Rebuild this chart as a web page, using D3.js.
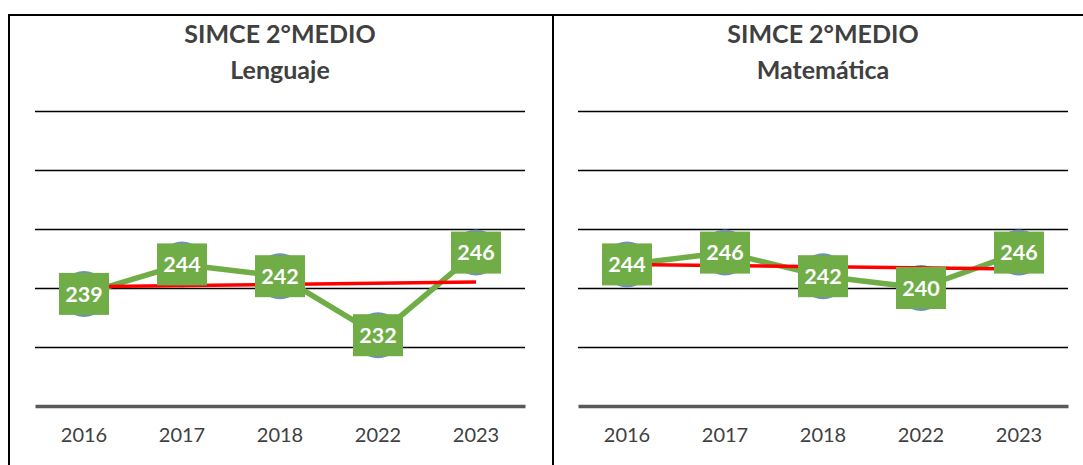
<!DOCTYPE html>
<html>
<head>
<meta charset="utf-8">
<script src="https://cdn.jsdelivr.net/npm/d3@7"></script>
<style>
  body { margin: 0; background: #fff; }
  text { font-family: Lato, "Open Sans", sans-serif; }
</style>
</head>
<body>
<div id="chart"></div>
<script>
// chart data
var years = ["2016", "2017", "2018", "2022", "2023"];
var lenguaje = [239, 244, 242, 232, 246];
var matematica = [244, 246, 242, 240, 246];
var titles = [["SIMCE 2°MEDIO", "Lenguaje"], ["SIMCE 2°MEDIO", "Matemática"]];
var yTicks = [220, 230, 240, 250, 260, 270];

var W = 1083, H = 465;
var svg = d3.select("#chart").append("svg")
    .attr("width", W)
    .attr("height", H);

// linear trendline (least squares) like excel
function trend(vals) {
    var n = vals.length, mx = (n - 1) / 2, my = d3.mean(vals);
    var num = 0, den = 0;
    vals.forEach(function(v, i) { num += (i - mx) * (v - my); den += (i - mx) * (i - mx); });
    var slope = num / den;
    return [my - slope * mx, my + slope * (n - 1 - mx)];
}

function drawPanel(values, title, px, plotLeft, plotRight, panelRight) {
    var g = svg.append("g");

    // panel frame
    g.append("path")
        .attr("d", "M" + px + "," + H + " V15 H" + panelRight + (panelRight < W ? " V" + H : ""))
        .attr("fill", "none")
        .attr("stroke", "#000")
        .attr("stroke-width", 2);

    var cx = (plotLeft + plotRight) / 2;
    g.selectAll(".title")
        .data(title)
        .enter().append("text")
        .attr("x", cx)
        .attr("y", function(d, i) { return 43 + i * 36; })
        .attr("text-anchor", "middle")
        .attr("font-weight", "bold")
        .attr("font-size", 25)
        .attr("fill", "#404040")
        .text(function(d) { return d; });

    var x = d3.scaleBand().domain(years).range([plotLeft, plotRight]).padding(0);
    var y = d3.scaleLinear().domain([220, 270]).range([406, 111]);
    var xc = function(d) { return x(d) + x.bandwidth() / 2; };

    // gridlines
    var grid = g.append("g")
        .attr("transform", "translate(" + plotLeft + ",0)")
        .call(d3.axisLeft(y).tickValues(yTicks.slice(1)).tickSize(-(plotRight - plotLeft)).tickFormat(""));
    grid.select(".domain").remove();
    grid.selectAll("line").attr("stroke", "#000").attr("stroke-width", 1.5);

    // bottom axis
    var xa = g.append("g")
        .attr("transform", "translate(0," + y(220) + ")")
        .call(d3.axisBottom(x).tickSize(0).tickPadding(22));
    xa.select(".domain").attr("stroke", "#595959").attr("stroke-width", 3.5);
    xa.selectAll("text")
        .attr("font-size", 20)
        .attr("fill", "#404040")
        .style("font-family", "Lato, sans-serif");

    var pts = years.map(function(d, i) { return [xc(d), y(values[i])]; });

    // series line
    g.append("path")
        .attr("d", d3.line()(pts))
        .attr("fill", "none")
        .attr("stroke", "#70AD47")
        .attr("stroke-width", 5.5)
        .attr("stroke-linejoin", "round");

    // markers
    g.selectAll(".marker")
        .data(pts)
        .enter().append("circle")
        .attr("cx", function(d) { return d[0]; })
        .attr("cy", function(d) { return d[1]; })
        .attr("r", 23)
        .attr("fill", "#6f8fc4");

    // trendline
    var t = trend(values);
    g.append("line")
        .attr("x1", xc(years[0])).attr("y1", y(t[0]))
        .attr("x2", xc(years[years.length - 1])).attr("y2", y(t[1]))
        .attr("stroke", "#FF0000")
        .attr("stroke-width", 3.5);

    // data labels
    var lab = g.selectAll(".lab")
        .data(pts)
        .enter().append("g")
        .attr("transform", function(d) { return "translate(" + d[0] + "," + d[1] + ")"; });
    lab.append("rect")
        .attr("x", -25).attr("y", -21)
        .attr("width", 50).attr("height", 42)
        .attr("fill", "#70AD47");
    lab.append("text")
        .attr("text-anchor", "middle")
        .attr("dy", "0.36em")
        .attr("font-weight", "bold")
        .attr("font-size", 21.5)
        .attr("fill", "#fff")
        .text(function(d, i) { return values[i]; });
}

drawPanel(lenguaje, titles[0], 9, 35, 525, 553);
drawPanel(matematica, titles[1], 553, 578, 1068, W + 5);
</script>
</body>
</html>
